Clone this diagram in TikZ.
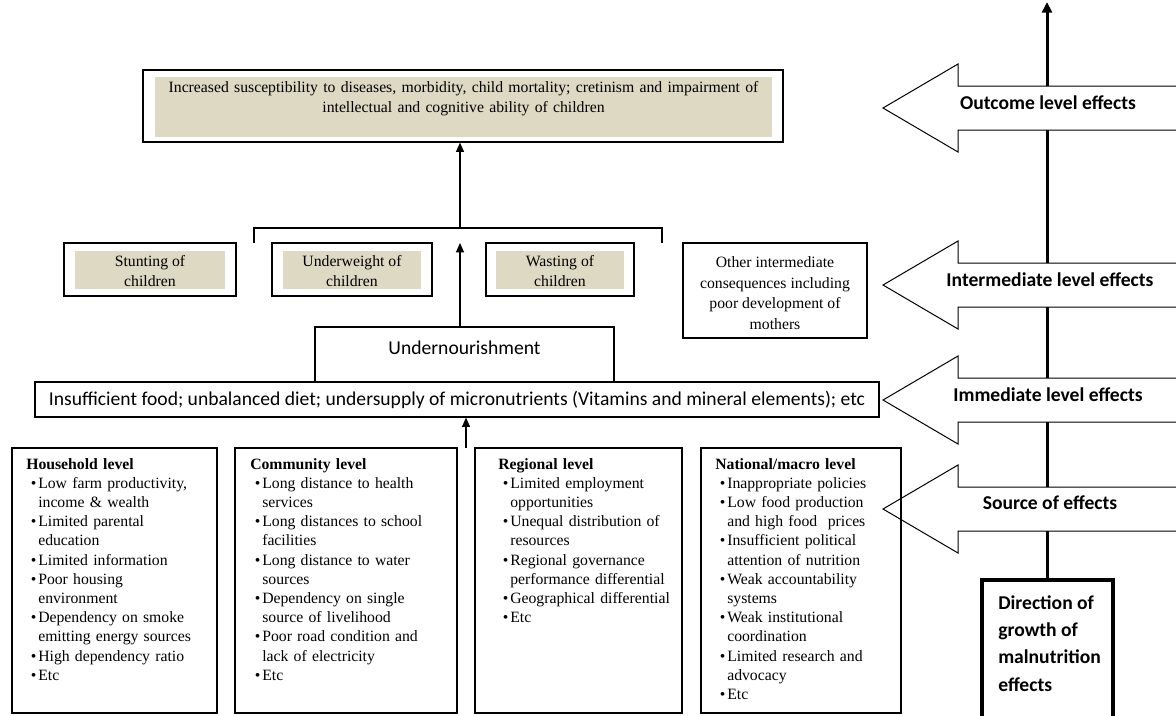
\documentclass[tikz,border=0pt]{standalone}
\usepackage{fontspec}
\setmainfont{Liberation Serif}
\newfontfamily\calibri{Carlito}
\usepackage{enumitem}
\usetikzlibrary{positioning,fit,arrows.meta}

\definecolor{tan}{HTML}{DDD9C3}
\newcommand{\calsize}{\calibri\fontsize{14.7}{17.5}\selectfont}
\setlist[itemize]{label=\textbullet,leftmargin=9pt,labelsep=1.5pt,itemsep=0pt,parsep=0pt,topsep=0pt,partopsep=0pt}

\tikzset{
  box/.style={draw,line width=0.9pt,inner sep=0pt},
  tanbox/.style={fill=tan,inner sep=0pt},
  midtext/.style={align=center,inner sep=0pt,font=\fontsize{11.8}{15.5}\selectfont},
  effect/.style={draw,fill=white,line width=0.75pt},
  efflabel/.style={font=\calsize\bfseries},
  srctext/.style={anchor=north west,inner sep=0pt,text width=150pt,align=left,font=\fontsize{11.8}{14.4}\selectfont},
}

% block arrow pointing left, #1 = centre line
\newcommand{\effarrow}[1]{%
  \draw[effect] (1190,#1-22) -- (958,#1-22) -- (958,#1-44) -- (883,#1)
    -- (958,#1+44) -- (958,#1+22) -- (1190,#1+22) -- cycle;}

\begin{document}
\begin{tikzpicture}[x=0.75pt,y=-0.75pt,>={Triangle[length=7pt,width=6pt]},
    font=\fontsize{11.8}{15}\selectfont]
  \useasboundingbox (0,0) rectangle (1176,715);
  \clip (0,0) rectangle (1176,715);

  % direction of growth
  \node[box,line width=3pt,fit={(982,580) (1113,730)}] (dir) {};
  \coordinate (growthtip) at (1047,2);
  \draw[-{Triangle[length=8pt,width=7.5pt]},line width=2.25pt] (dir.north -| growthtip) -- (growthtip);
  \node[anchor=north west,inner sep=0pt,align=left,font=\calibri\fontsize{14.7}{20.5}\selectfont\bfseries]
    (dirtxt) at (998,595) {Direction of\\growth of\\malnutrition\\effects};

  % level arrows
  \effarrow{108}
  \effarrow{285}
  \effarrow{400}
  \effarrow{509}
  \node[efflabel] (outlbl) at (1048,103) {Outcome level effects};
  \node[efflabel] (midlbl) at (1050,280) {Intermediate level effects};
  \node[efflabel] (immlbl) at (1048,395) {Immediate level effects};
  \node[efflabel] (srclbl) at (1050,503) {Source of effects};

  % outcome level
  \node[box,fit={(143,70) (783,142)}] (outcome) {};
  \node[tanbox,fit={(155,77) (772,137)}] (outfill) {};
  \node[anchor=north,text width=460pt,align=center,inner sep=0pt] (outtxt) at (463.5,81)
    {Increased susceptibility to diseases, morbidity, child mortality; cretinism and impairment of\\intellectual and cognitive ability of children};

  % intermediate level
  \node[box,fit={(64,243) (236,296)}] (stunt) {};
  \node[tanbox,fit={(75,251) (225,289)}] (stuntin) {};
  \node[midtext] (stunttxt) at (150,271) {Stunting of\\children};
  \node[box,fit={(272,243) (432,296)}] (uweight) {};
  \node[tanbox,fit={(283,251) (421,289)}] (uweightin) {};
  \node[midtext] (uweighttxt) at (352,271) {Underweight of\\children};
  \node[box,fit={(486,243) (634,296)}] (waste) {};
  \node[tanbox,fit={(496,251) (624,289)}] (wastein) {};
  \node[midtext] (wastetxt) at (560,271) {Wasting of\\children};
  \node[box,fit={(683,243) (867,338)}] (other) {};
  \node[midtext] (othertxt) at (775,293)
    {Other intermediate\\consequences including\\poor development of\\mothers};

  \coordinate (brk) at (460,228);
  \coordinate (brkfoot) at (460,243);
  \draw[line width=0.9pt] (254,243) |- (brk) -| (662,243);
  \draw[->,line width=0.9pt] (brk) -- (outcome.south -| brk);

  % immediate level
  \node[box,fit={(315,327) (614,382)}] (undernour) {};
  \node[font=\calsize] (undertxt) at (464.5,348) {Undernourishment};
  \draw[->,line width=0.9pt] (undernour.north -| brk) -- (brkfoot);
  \node[box,fit={(35,382) (879,417)}] (food) {};
  \node[font=\calsize] (foodtxt) at (457,400)
    {Insufficient food; unbalanced diet; undersupply of micronutrients (Vitamins and mineral elements); etc};

  % source level
  \coordinate (srcfoot) at (466,448);
  \draw[->,line width=0.9pt] (srcfoot) -- (food.south -| srcfoot);
  \node[box,fit={(12,448) (217,713)}] (house) {};
  \node[box,fit={(235,448) (457,713)}] (comm) {};
  \node[box,fit={(475,448) (682,713)}] (region) {};
  \node[box,fit={(701,448) (901,713)}] (nation) {};

  \node[srctext] (housetxt) at (26,458) {\textbf{Household level}
    \begin{itemize}
      \item Low farm productivity,\\income \& wealth
      \item Limited parental\\education
      \item Limited information
      \item Poor housing\\environment
      \item Dependency on smoke\\emitting energy sources
      \item High dependency ratio
      \item Etc
    \end{itemize}};
  \node[srctext] (commtxt) at (250,458) {\textbf{Community level}
    \begin{itemize}
      \item Long distance to health\\services
      \item Long distances to school\\facilities
      \item Long distance to water\\sources
      \item Dependency on single\\source of livelihood
      \item Poor road condition and\\lack of electricity
      \item Etc
    \end{itemize}};
  \node[srctext] (regiontxt) at (498,458) {\textbf{Regional level}
    \begin{itemize}
      \item Limited employment\\opportunities
      \item Unequal distribution of\\resources
      \item Regional governance\\performance differential
      \item Geographical differential
      \item Etc
    \end{itemize}};
  \node[srctext] (nationtxt) at (715,458) {\textbf{National/macro level}
    \begin{itemize}
      \item Inappropriate policies
      \item Low food production\\and high food~ prices
      \item Insufficient political\\attention of nutrition
      \item Weak accountability\\systems
      \item Weak institutional\\coordination
      \item Limited research and\\advocacy
      \item Etc
    \end{itemize}};
\end{tikzpicture}
\end{document}
